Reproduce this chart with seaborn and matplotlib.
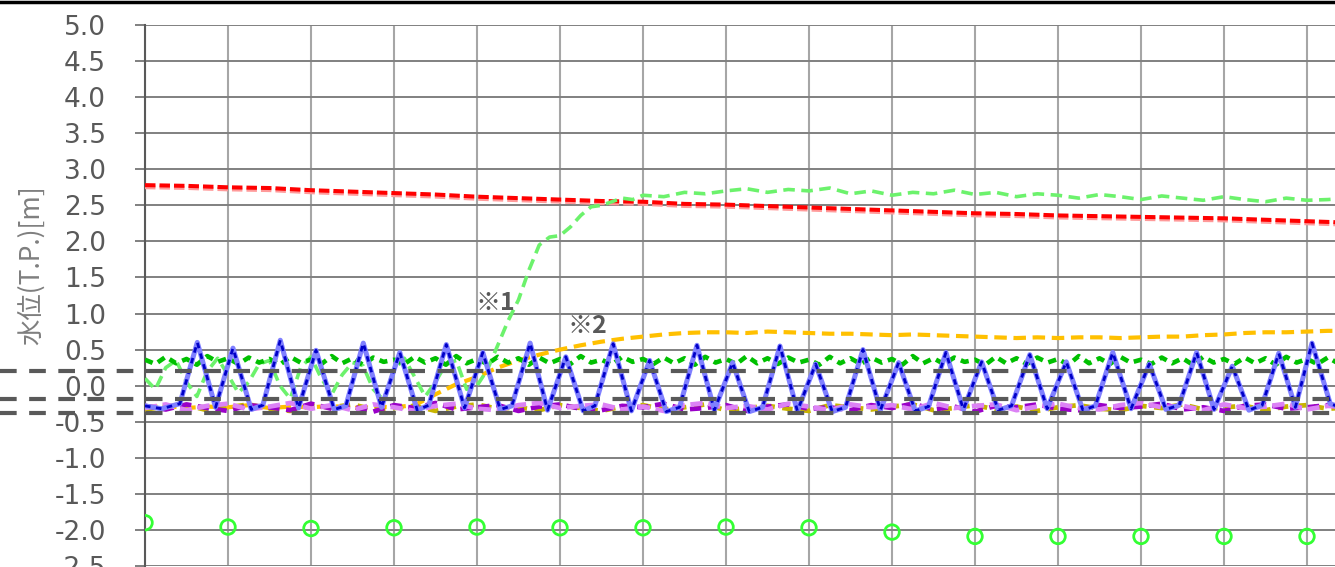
"""Water level chart (tidal area, T.P. datum)."""

import matplotlib.pyplot as plt
import matplotlib.patheffects as pe
import numpy as np
import seaborn as sns

sns.set_style("white")
plt.rcParams["font.family"] = ["DejaVu Sans"]
plt.rcParams["axes.unicode_minus"] = False

# ---- data (x in days) ----
red_step = 0.5
red_level = [2.78, 2.77, 2.75, 2.74, 2.71, 2.69, 2.67, 2.65, 2.62, 2.60,
             2.58, 2.56, 2.55, 2.52, 2.51, 2.49, 2.47, 2.45, 2.43, 2.41,
             2.39, 2.38, 2.36, 2.35, 2.34, 2.33, 2.32, 2.30, 2.28, 2.26]

lgreen_early = [0.10, -0.05, 0.25, 0.35, 0.05, -0.15, 0.20, 0.38, 0.15, -0.10,
                0.05, 0.30, 0.35, 0.00, -0.18, 0.25, 0.40, 0.10, -0.12, 0.15,
                0.32, 0.28, -0.05, -0.20, 0.22, 0.38, 0.12, -0.15, 0.05, 0.30,
                0.35, -0.05, 0.00, 0.22, 0.56, 0.90, 1.19, 1.60, 1.95, 2.06,
                2.08, 2.20, 2.36, 2.48, 2.50, 2.55, 2.60, 2.58, 2.64]
lgreen_late = [2.62, 2.68, 2.66, 2.70, 2.73, 2.68, 2.72, 2.70, 2.74, 2.66,
               2.70, 2.64, 2.68, 2.66, 2.71, 2.65, 2.68, 2.62, 2.66, 2.64,
               2.60, 2.65, 2.62, 2.58, 2.63, 2.60, 2.57, 2.62, 2.58, 2.55,
               2.60, 2.57, 2.58, 2.60]

dgreen_level = [0.36, 0.30, 0.40, 0.31, 0.37, 0.29, 0.41, 0.33, 0.38, 0.30, 0.39, 0.32,
                0.37, 0.29, 0.40, 0.32, 0.36, 0.30, 0.41, 0.31, 0.38, 0.29, 0.39, 0.33,
                0.36, 0.30, 0.40, 0.32, 0.38, 0.29, 0.41, 0.31, 0.37, 0.30, 0.40, 0.32,
                0.38, 0.29, 0.39, 0.31, 0.37, 0.30, 0.41, 0.32, 0.36, 0.29, 0.40, 0.33,
                0.37, 0.30, 0.39, 0.31, 0.38, 0.29, 0.40, 0.32, 0.37, 0.30, 0.41, 0.31,
                0.38, 0.30, 0.39, 0.32, 0.36, 0.29, 0.40, 0.31, 0.38, 0.30, 0.39, 0.32,
                0.37, 0.29, 0.41, 0.31, 0.38, 0.30, 0.39, 0.33, 0.36, 0.29, 0.40, 0.31,
                0.38, 0.30, 0.39, 0.32, 0.37, 0.29, 0.41, 0.31, 0.38, 0.30, 0.40, 0.32,
                0.36, 0.30, 0.39, 0.31, 0.38, 0.29, 0.40, 0.32, 0.37, 0.30, 0.39, 0.31,
                0.38, 0.29, 0.40, 0.32, 0.37, 0.30, 0.39, 0.31]

orange_level = [-0.30, -0.28, -0.31, -0.29, -0.30, -0.27, -0.31, -0.29, -0.30, -0.28,
                -0.31, -0.29, -0.30, -0.27, -0.12, 0.02, 0.12, 0.25, 0.35, 0.43,
                0.50, 0.56, 0.61, 0.65, 0.68, 0.71, 0.73, 0.74, 0.74, 0.73,
                0.75, 0.74, 0.73, 0.72, 0.72, 0.71, 0.70, 0.71, 0.70, 0.69,
                0.68, 0.67, 0.66, 0.67, 0.66, 0.67, 0.67, 0.66, 0.67, 0.68,
                0.68, 0.70, 0.71, 0.73, 0.74, 0.74, 0.75, 0.76, 0.76]

purple_level = [-0.28, -0.33, -0.26, -0.31, -0.35, -0.27, -0.30, -0.34, -0.25, -0.32,
                -0.29, -0.36, -0.27, -0.31, -0.24, -0.33, -0.30, -0.27, -0.35, -0.29,
                -0.26, -0.32, -0.34, -0.28, -0.30, -0.25, -0.33, -0.31, -0.27, -0.35,
                -0.29, -0.26, -0.32, -0.30, -0.34, -0.27, -0.31, -0.25, -0.33, -0.29,
                -0.36, -0.28, -0.30, -0.26, -0.32, -0.34, -0.27, -0.31, -0.29, -0.25,
                -0.33, -0.30, -0.35, -0.28, -0.26, -0.32, -0.30, -0.27, -0.31]
violet_level = [-0.31, -0.26, -0.34, -0.28, -0.25, -0.33, -0.29, -0.24, -0.32, -0.27,
                -0.34, -0.26, -0.30, -0.35, -0.28, -0.25, -0.32, -0.34, -0.27, -0.24,
                -0.31, -0.28, -0.26, -0.33, -0.29, -0.35, -0.27, -0.24, -0.31, -0.28,
                -0.33, -0.25, -0.29, -0.34, -0.26, -0.30, -0.27, -0.33, -0.24, -0.31,
                -0.28, -0.26, -0.34, -0.29, -0.25, -0.31, -0.33, -0.27, -0.24, -0.30,
                -0.28, -0.34, -0.26, -0.31, -0.29, -0.25, -0.33, -0.28, -0.30]
olive_level = [-0.33, -0.29, -0.27, -0.34, -0.30, -0.26, -0.32, -0.35, -0.28, -0.30,
               -0.26, -0.33, -0.31, -0.28, -0.35, -0.29, -0.26, -0.32, -0.30, -0.34,
               -0.27, -0.31, -0.35, -0.29, -0.27, -0.33, -0.30, -0.26, -0.34, -0.31,
               -0.28, -0.32, -0.35, -0.27, -0.30, -0.33, -0.29, -0.26, -0.34, -0.31,
               -0.27, -0.33, -0.29, -0.35, -0.30, -0.27, -0.32, -0.34, -0.28, -0.31,
               -0.26, -0.33, -0.30, -0.28, -0.34, -0.29, -0.27, -0.32, -0.30]

blue_time = [0.00, 0.20, 0.42, 0.63, 0.85, 1.06, 1.28, 1.42, 1.63, 1.85,
             2.06, 2.28, 2.42, 2.63, 2.85, 3.07, 3.28, 3.42, 3.63, 3.85,
             4.07, 4.28, 4.42, 4.64, 4.85, 5.07, 5.28, 5.42, 5.64, 5.86,
             6.08, 6.28, 6.44, 6.65, 6.86, 7.08, 7.28, 7.44, 7.65, 7.86,
             8.08, 8.28, 8.44, 8.65, 8.86, 9.08, 9.28, 9.44, 9.65, 9.86,
             10.08, 10.28, 10.44, 10.66, 10.87, 11.10, 11.30, 11.45, 11.66, 11.88,
             12.10, 12.30, 12.46, 12.67, 12.88, 13.10, 13.30, 13.46, 13.66, 13.86,
             14.06, 14.28, 14.40]
blue_level = [-0.28, -0.32, -0.25, 0.60, -0.30, 0.52, -0.33, -0.27, 0.63, -0.31,
              0.49, -0.33, -0.28, 0.59, -0.30, 0.46, -0.34, -0.27, 0.57, -0.31,
              0.46, -0.33, -0.28, 0.59, -0.34, 0.40, -0.35, -0.28, 0.58, -0.35,
              0.35, -0.36, -0.30, 0.56, -0.34, 0.32, -0.36, -0.30, 0.55, -0.35,
              0.30, -0.36, -0.30, 0.50, -0.34, 0.32, -0.35, -0.29, 0.46, -0.33,
              0.33, -0.34, -0.28, 0.43, -0.32, 0.33, -0.34, -0.28, 0.46, -0.32,
              0.30, -0.33, -0.27, 0.46, -0.33, 0.27, -0.34, -0.27, 0.45, -0.30,
              0.59, -0.25, -0.30]

circle_day = list(range(15))
circle_level = [-1.90, -1.96, -1.98, -1.97, -1.96, -1.97, -1.97, -1.96, -1.97,
                -2.03, -2.09, -2.09, -2.09, -2.09, -2.09]

ref_levels = [0.20, -0.18, -0.38]
y_ticks = [5.0, 4.5, 4.0, 3.5, 3.0, 2.5, 2.0, 1.5, 1.0, 0.5, 0.0,
           -0.5, -1.0, -1.5, -2.0, -2.5]
y_label = "水位(T.P.)[m]"
top_ticks_px = [89, 187, 292, 395, 498, 600, 704, 807, 910, 1013, 1114, 1212, 1313]

# ---- figure ----
W, H = 1335, 567
fig = plt.figure(figsize=(W / 100, H / 100), dpi=100)
ax = fig.add_axes([145 / W, 1 / H, 1190 / W, 541 / H])

t_red = np.arange(len(red_level)) * red_step
t_lg = np.concatenate([np.arange(len(lgreen_early)) * 0.125,
                       6.25 + np.arange(len(lgreen_late)) * 0.25])
lg_level = lgreen_early + lgreen_late
t_dg = np.arange(len(dgreen_level)) * 0.125
t_q = np.arange(len(orange_level)) * 0.25

sns.lineplot(x=t_red, y=red_level, ax=ax, color="#ff0000", lw=2.9,
             linestyle=(0, (2.6, 1.0)), zorder=3,
             path_effects=[pe.Stroke(offset=(0, -1.5), linewidth=2.9, foreground="#ff9a9a"),
                           pe.Normal()])
sns.lineplot(x=t_q, y=orange_level, ax=ax, color="#ffc000", lw=3.0,
             linestyle=(0, (3.0, 1.6)), zorder=3)
sns.lineplot(x=t_lg, y=lg_level, ax=ax, color="#6cf26c", lw=2.6,
             linestyle=(0, (3.2, 1.8)), zorder=3)
sns.lineplot(x=t_q, y=olive_level, ax=ax, color="#c8b400", lw=3.4,
             linestyle=(0, (2.2, 1.6)), zorder=4)
sns.lineplot(x=t_q, y=purple_level, ax=ax, color="#9a00c8", lw=3.4,
             linestyle=(0, (2.4, 1.4)), zorder=4)
sns.lineplot(x=t_q, y=violet_level, ax=ax, color="#dc82f5", lw=3.4,
             linestyle=(0, (2.6, 1.2)), zorder=4)
sns.lineplot(x=t_dg, y=dgreen_level, ax=ax, color="#00c000", lw=3.3,
             linestyle=(0, (1.8, 1.3)), zorder=5)
sns.lineplot(x=blue_time, y=blue_level, ax=ax, color="#8080ff", lw=3.6, zorder=5)
sns.lineplot(x=blue_time, y=blue_level, ax=ax, color="#0000c8", lw=2.0,
             linestyle=(0, (2.0, 2.0)), zorder=6)
sns.scatterplot(x=circle_day, y=circle_level, ax=ax, s=110, marker="o",
                facecolor="none", edgecolor="#33ff33", linewidth=2.0, zorder=6)

for lv in ref_levels:
    ax.axhline(lv, xmin=-145 / 1190, xmax=1, color="#595959", lw=3.0,
               linestyle=(0, (4.0, 3.0)), clip_on=False, zorder=8)

cjk = ["Noto Sans CJK JP", "DejaVu Sans"]
ax.text(4.22, 1.14, "※1", ha="center", va="center", fontsize=18, fontweight="bold",
        color="#595959", family=cjk, zorder=9)
ax.text(5.33, 0.83, "※2", ha="center", va="center", fontsize=18, fontweight="bold",
        color="#595959", family=cjk, zorder=9)

ax.set_xlim(0, 1190 / 83)
ax.set_ylim(-2.5, 5.0)
ax.set_xticks(range(15))
ax.set_xticklabels([])
ax.set_yticks(y_ticks)
ax.set_yticklabels([f"{v:.1f}" for v in y_ticks])
ax.tick_params(axis="x", length=0)
ax.tick_params(axis="y", length=7.2, width=1.4, color="#808080", pad=21,
               labelsize=19, labelcolor="#595959", left=True)
ax.grid(axis="y", color="#808080", lw=1.4)
ax.grid(axis="x", color="#a6a6a6", lw=1.5)
ax.set_axisbelow(True)
for side in ["top", "right", "bottom"]:
    ax.spines[side].set_visible(False)
ax.spines["left"].set_color("#595959")
ax.spines["left"].set_linewidth(1.5)
ax.set_xlabel("")
ax.set_ylabel("")

fig.text(31 / W, 1 - 265 / H, y_label, rotation=90, ha="center", va="center",
         fontsize=19, color="#7f7f7f", family=cjk)

# bottom axis of the panel above (cropped at the top edge)
ax_top = fig.add_axes([0, 1 - 2 / H, 1, 1 / H])
ax_top.set_xlim(0, W)
ax_top.set_yticks([])
ax_top.set_xticks(top_ticks_px)
ax_top.set_xticklabels([])
ax_top.tick_params(axis="x", length=3, width=2, color="black", direction="out")
for side in ["top", "right", "left"]:
    ax_top.spines[side].set_visible(False)
ax_top.spines["bottom"].set_linewidth(2.5)
ax_top.spines["bottom"].set_color("black")
ax_top.patch.set_alpha(0)

fig.savefig("out.png", dpi=100)
